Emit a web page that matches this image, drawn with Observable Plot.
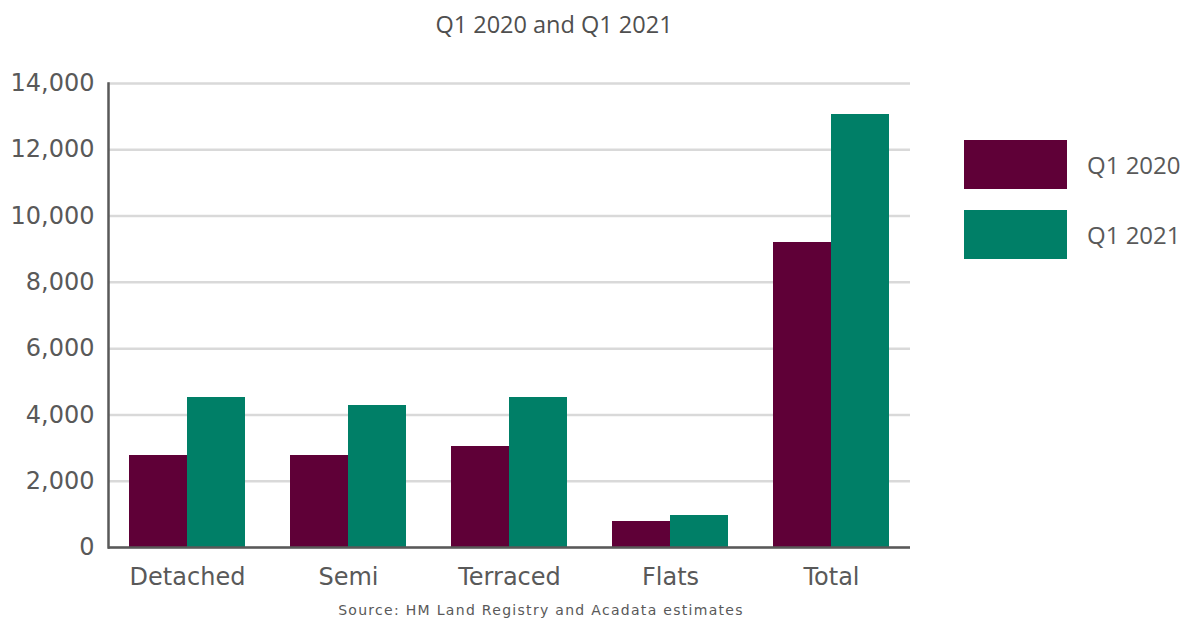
<!DOCTYPE html>
<html>
<head>
<meta charset="utf-8">
<script src="https://cdn.jsdelivr.net/npm/d3@7"></script>
<script src="https://cdn.jsdelivr.net/npm/@observablehq/plot@0.6"></script>
<style>
  html, body { margin: 0; padding: 0; background: #fff; }
  body { width: 1190px; height: 621px; position: relative; overflow: hidden; font-family: "Open Sans", sans-serif; }
  #title { position: absolute; left: 0; top: 0; width: 1108px; height: 48px; line-height: 48px; text-align: center; font-size: 23.5px; color: #4f4f4f; }
  #chart { position: absolute; left: 0; top: 48px; }
  #source { position: absolute; left: 0; top: 598px; width: 1082px; height: 24px; line-height: 24px; text-align: center; font-family: "DejaVu Sans", sans-serif; font-size: 14px; letter-spacing: 1.3px; color: #595959; }
  .legend-item { position: absolute; left: 964px; height: 49px; display: flex; align-items: center; }
  .swatch { width: 103px; height: 49px; }
  .legend-label { margin-left: 20px; font-size: 24px; color: #595959; }
</style>
</head>
<body>
<div id="title">Q1 2020 and Q1 2021</div>
<div id="chart"></div>
<div id="source">Source: HM Land Registry and Acadata estimates</div>
<div id="legend"></div>
<script>
const categories = ["Detached", "Semi", "Terraced", "Flats", "Total"];
const q1_2020 = [2770, 2770, 3040, 780, 9210];
const q1_2021 = [4530, 4280, 4525, 960, 13075];
const seriesNames = ["Q1 2020", "Q1 2021"];
const seriesColors = ["#5f0037", "#007f67"];
const yTicks = [0, 2000, 4000, 6000, 8000, 10000, 12000, 14000];

const width = 1190, height = 548;
const marginLeft = 108, marginRight = 280, marginTop = 35, marginBottom = 49;
const paddingInner = 0.28, paddingOuter = 0.13;

const rows2020 = categories.map((c, i) => ({category: c, series: seriesNames[0], value: q1_2020[i]}));
const rows2021 = categories.map((c, i) => ({category: c, series: seriesNames[1], value: q1_2021[i]}));

const half = d3.scaleBand().domain(categories)
  .range([marginLeft, width - marginRight])
  .paddingInner(paddingInner).paddingOuter(paddingOuter).bandwidth() / 2;

const tickColor = "#595959";

const chart = Plot.plot({
  width, height, marginLeft, marginRight, marginTop, marginBottom,
  style: {background: "#fff", fontFamily: "Open Sans, sans-serif"},
  x: {domain: categories, paddingInner, paddingOuter, label: null},
  y: {domain: [0, 14000], label: null},
  color: {domain: seriesNames, range: seriesColors},
  marks: [
    Plot.gridY(yTicks, {stroke: "#d9d9d9", strokeOpacity: 1, strokeWidth: 2.5}),
    Plot.barY(rows2020, {x: "category", y: "value", fill: "series", insetRight: half, insetLeft: 0, shapeRendering: "crispEdges"}),
    Plot.barY(rows2021, {x: "category", y: "value", fill: "series", insetLeft: half, insetRight: 0, shapeRendering: "crispEdges"}),
    Plot.ruleY([0], {stroke: tickColor, strokeWidth: 2.5}),
    Plot.frame({anchor: "left", stroke: tickColor, strokeWidth: 2.5}),
    Plot.axisY(yTicks, {tickSize: 0, tickPadding: 14, tickFormat: d3.format(","), fontSize: 24, fill: tickColor, fontFamily: "DejaVu Sans, sans-serif", label: null}),
    Plot.axisX({tickSize: 0, tickPadding: 20, fontSize: 24, fill: tickColor, fontFamily: "DejaVu Sans, sans-serif", label: null})
  ]
});
document.getElementById("chart").appendChild(chart);

const legend = document.getElementById("legend");
const legendTops = [140, 210];
seriesNames.forEach((name, i) => {
  const item = document.createElement("div");
  item.className = "legend-item";
  item.style.top = legendTops[i] + "px";
  const sw = document.createElement("div");
  sw.className = "swatch";
  sw.style.background = seriesColors[i];
  const lab = document.createElement("span");
  lab.className = "legend-label";
  lab.textContent = name;
  item.appendChild(sw);
  item.appendChild(lab);
  legend.appendChild(item);
});
</script>
</body>
</html>
